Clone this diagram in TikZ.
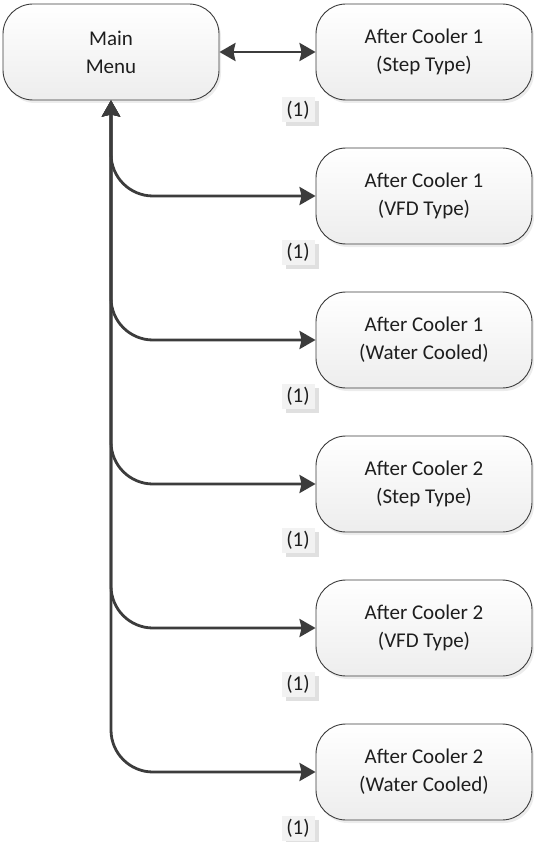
\documentclass[tikz,border=0pt]{standalone}
\usepackage{fontspec}
\setmainfont{Carlito}
\usetikzlibrary{arrows.meta,shadows}
\definecolor{linegray}{HTML}{3C3C3C}
\definecolor{textgray}{HTML}{1E1E1E}
\tikzset{
  menubox/.style={draw=linegray, line width=0.9pt, rounded corners=30pt,
    minimum width=216pt, minimum height=96pt, align=center,
    top color=white, bottom color=black!7,
    drop shadow={shadow xshift=2pt, shadow yshift=-3pt, fill=black!12, opacity=0.6},
    font=\fontsize{21}{28}\selectfont, text=textgray, inner sep=0pt},
  notelabel/.style={fill=black!5, minimum width=33pt, minimum height=25pt, inner sep=0pt,
    drop shadow={shadow xshift=4pt, shadow yshift=-4pt, fill=black!12, opacity=1},
    font=\fontsize{21}{24}\selectfont, text=textgray},
  conn/.style={draw=linegray, line width=2.8pt,
    arrows={Stealth[length=16pt,width=18pt,inset=2pt]-Stealth[length=16pt,width=18pt,inset=2pt]}},
}
\begin{document}
\begin{tikzpicture}[x=1pt,y=-1pt]
\useasboundingbox (0,0) rectangle (534,842);

\node[menubox] (main) at (111,52) {Main\\Menu};

\node[menubox] (b1) at (424,52)  {After Cooler 1\\(Step Type)};
\node[menubox] (b2) at (424,196) {After Cooler 1\\(VFD Type)};
\node[menubox] (b3) at (424,340) {After Cooler 1\\(Water Cooled)};
\node[menubox] (b4) at (424,484) {After Cooler 2\\(Step Type)};
\node[menubox] (b5) at (424,628) {After Cooler 2\\(VFD Type)};
\node[menubox] (b6) at (424,772) {After Cooler 2\\(Water Cooled)};

\node[notelabel] (n1) at (298,110) {(1)};
\node[notelabel] (n2) at (298,252) {(1)};
\node[notelabel] (n3) at (298,396) {(1)};
\node[notelabel] (n4) at (298,540) {(1)};
\node[notelabel] (n5) at (298,684) {(1)};
\node[notelabel] (n6) at (298,828) {(1)};

\draw[conn] (main.east) -- (b1.west);
\foreach \k in {2,...,6}
  \draw[conn, rounded corners=42pt] (main.south) |- (b\k.west);
\end{tikzpicture}
\end{document}
